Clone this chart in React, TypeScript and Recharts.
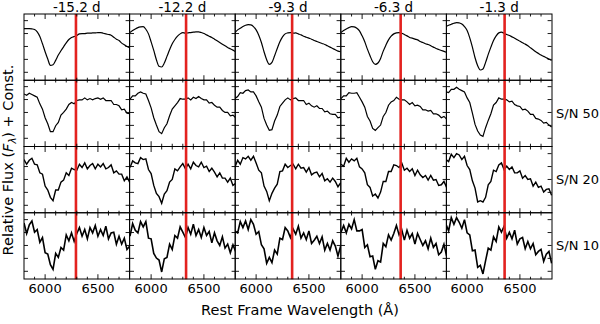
import { Line, LineChart, ReferenceLine, XAxis, YAxis } from 'recharts'

const WAVELENGTHS = [
  5800, 5825, 5850, 5875, 5900, 5925, 5950, 5975, 6000, 6025, 6050, 6075, 6100, 6125,
  6150, 6175, 6200, 6225, 6250, 6275, 6300, 6325, 6350, 6375, 6400, 6425, 6450, 6475,
  6500, 6525, 6550, 6575, 6600, 6625, 6650, 6675, 6700, 6725, 6750, 6775, 6800,
]

const PHASES = ['-15.2 d', '-12.2 d', '-9.3 d', '-6.3 d', '-1.3 d']
const NOISE_LABELS = ['', 'S/N 50', 'S/N 20', 'S/N 10']
const MARKERS = [6292, 6331, 6341, 6365, 6355]
const X_TICKS = [5900, 6000, 6100, 6200, 6300, 6400, 6500, 6600, 6700]
const X_LABELS = [6000, 6500]
const Y_TICKS = [0.12, 0.315, 0.51, 0.705, 0.9]

// noiseless spectra
const clean152 = [.78, .78, .78, .775, .765, .73, .66, .55, .43, .32, .225, .235, .30, .38, .445, .505, .565, .615, .645, .66, .675, .70, .705, .705, .71, .71, .715, .715, .72, .72, .71, .70, .69, .68, .65, .62, .60, .56, .535, .51, .49]
const clean122 = [.72, .75, .775, .795, .805, .81, .77, .70, .58, .45, .31, .21, .20, .26, .36, .46, .55, .615, .665, .70, .72, .71, .715, .72, .725, .73, .73, .72, .705, .685, .665, .645, .62, .595, .57, .545, .52, .495, .475, .455, .43]
const clean93 = [.72, .76, .785, .81, .83, .84, .835, .81, .76, .68, .57, .43, .31, .24, .27, .37, .48, .58, .655, .70, .715, .72, .71, .715, .70, .685, .665, .65, .635, .62, .60, .585, .57, .555, .54, .52, .50, .48, .46, .44, .43]
const clean63 = [.72, .75, .775, .795, .81, .805, .785, .745, .67, .58, .47, .37, .28, .24, .26, .33, .44, .53, .61, .665, .70, .715, .72, .71, .69, .67, .645, .635, .62, .61, .585, .57, .55, .54, .52, .50, .48, .465, .45, .435, .42]
const clean13 = [.81, .83, .845, .86, .87, .865, .85, .81, .75, .64, .50, .34, .22, .155, .17, .27, .39, .50, .60, .67, .715, .725, .71, .69, .675, .655, .635, .61, .59, .565, .545, .52, .49, .46, .43, .405, .38, .36, .34, .32, .30]

// S/N 50
const sn50_152 = [.79, .77, .80, .78, .76, .74, .64, .56, .43, .34, .22, .22, .31, .36, .47, .51, .56, .63, .66, .64, .69, .70, .70, .73, .70, .72, .70, .72, .73, .71, .73, .69, .69, .69, .63, .63, .61, .55, .56, .50, .49]
const sn50_122 = [.71, .76, .76, .80, .82, .80, .79, .69, .58, .43, .32, .22, .19, .28, .34, .46, .56, .61, .66, .72, .71, .71, .73, .70, .74, .72, .75, .72, .70, .70, .65, .66, .62, .59, .59, .54, .51, .51, .46, .47, .43]
const sn50_93 = [.72, .75, .81, .80, .84, .85, .82, .82, .76, .67, .59, .42, .32, .24, .25, .38, .47, .60, .65, .70, .73, .70, .72, .73, .69, .69, .69, .63, .65, .61, .59, .61, .57, .57, .52, .53, .49, .48, .48, .43, .44]
const sn50_63 = [.72, .76, .76, .81, .80, .80, .81, .74, .67, .59, .45, .38, .27, .24, .28, .32, .45, .51, .62, .67, .69, .74, .71, .70, .70, .67, .63, .66, .61, .62, .60, .55, .55, .53, .54, .49, .49, .47, .43, .45, .41]
const sn50_13 = [.82, .81, .86, .86, .89, .86, .84, .82, .73, .66, .50, .33, .23, .17, .15, .28, .39, .49, .62, .66, .73, .71, .71, .70, .67, .68, .63, .61, .60, .55, .56, .53, .48, .48, .42, .41, .39, .35, .36, .32, .29]

// S/N 20
const sn20_152 = [.81, .74, .80, .83, .74, .73, .61, .59, .41, .35, .24, .19, .35, .35, .47, .50, .61, .57, .68, .66, .65, .74, .69, .76, .67, .72, .75, .67, .74, .70, .75, .67, .69, .73, .61, .64, .59, .59, .49, .55, .47]
const sn20_122 = [.69, .79, .76, .75, .84, .81, .82, .66, .60, .42, .30, .25, .15, .29, .34, .47, .51, .67, .64, .70, .75, .67, .74, .67, .77, .72, .70, .77, .69, .71, .63, .68, .62, .55, .61, .53, .53, .47, .53, .42, .45]
const sn20_93 = [.70, .80, .74, .84, .82, .86, .80, .86, .76, .65, .61, .41, .33, .19, .30, .38, .44, .63, .64, .74, .69, .72, .74, .67, .74, .68, .69, .62, .69, .58, .61, .62, .55, .60, .49, .52, .47, .53, .48, .40, .46]
const sn20_63 = [.74, .71, .83, .77, .82, .79, .83, .70, .67, .61, .43, .39, .26, .29, .23, .32, .48, .48, .63, .63, .73, .72, .69, .76, .65, .68, .63, .67, .57, .65, .58, .54, .57, .50, .57, .50, .51, .42, .43, .48, .39]
const sn20_13 = [.81, .78, .89, .84, .90, .88, .81, .86, .72, .66, .49, .38, .17, .19, .17, .24, .43, .48, .65, .63, .73, .76, .66, .71, .66, .70, .61, .61, .64, .53, .57, .51, .52, .41, .47, .39, .41, .32, .36, .37, .27]

// S/N 10
const sn10_152 = [.85, .69, .82, .88, .71, .75, .56, .63, .40, .38, .22, .15, .39, .33, .48, .44, .67, .58, .70, .57, .69, .78, .65, .75, .61, .78, .70, .81, .65, .75, .66, .80, .61, .70, .71, .53, .65, .53, .62, .45, .50]
const sn10_122 = [.65, .84, .74, .70, .87, .79, .87, .62, .61, .39, .32, .29, .11, .31, .33, .53, .45, .66, .62, .79, .71, .63, .78, .68, .83, .66, .75, .63, .78, .66, .72, .55, .70, .58, .51, .64, .47, .53, .40, .52, .42]
const sn10_93 = [.73, .70, .87, .78, .88, .75, .90, .83, .68, .72, .52, .46, .24, .33, .25, .44, .38, .62, .60, .78, .73, .63, .76, .68, .80, .62, .70, .60, .73, .54, .59, .65, .54, .64, .44, .54, .44, .58, .50, .35, .50]
const sn10_63 = [.71, .81, .70, .83, .76, .90, .73, .73, .75, .48, .52, .34, .35, .15, .28, .26, .54, .49, .67, .59, .69, .81, .67, .75, .59, .74, .62, .69, .53, .69, .60, .51, .58, .46, .62, .48, .54, .37, .41, .53, .35]
const sn10_13 = [.83, .73, .93, .83, .93, .86, .77, .90, .70, .67, .43, .44, .18, .21, .08, .28, .47, .44, .64, .57, .79, .71, .80, .62, .71, .61, .74, .53, .61, .63, .46, .57, .46, .54, .37, .42, .45, .27, .38, .42, .24]

const SPECTRA = [
  [clean152, clean122, clean93, clean63, clean13],
  [sn50_152, sn50_122, sn50_93, sn50_63, sn50_13],
  [sn20_152, sn20_122, sn20_93, sn20_63, sn20_13],
  [sn10_152, sn10_122, sn10_93, sn10_63, sn10_13],
]

const LEFT = 24
const TOP = 14
const PW = 105.6
const PH = 66.25
const LABEL_SPACE = 24
const FONT = '"DejaVu Sans", sans-serif'
const LINE_WIDTHS = [1.2, 1.2, 1.4, 1.6]

// ticks point inwards on all four sides, drawn from the bottom / left axes
function XTick(props: any) {
  const { x, y, payload, label } = props
  const major = X_LABELS.includes(payload.value)
  const len = major ? 5 : 2.5
  return (
    <g>
      <line x1={x} x2={x} y1={y} y2={y - len} stroke="#000" strokeWidth={0.9} />
      <line x1={x} x2={x} y1={y - PH} y2={y - PH + len} stroke="#000" strokeWidth={0.9} />
      {label && major && (
        <text x={x} y={y + 14} textAnchor="middle" fontSize={13} fontFamily={FONT} fill="#000">
          {payload.value}
        </text>
      )}
    </g>
  )
}

function YTick(props: any) {
  const { x, y } = props
  return (
    <g>
      <line x1={x} x2={x + 4} y1={y} y2={y} stroke="#000" strokeWidth={0.9} />
      <line x1={x + PW} x2={x + PW - 4} y1={y} y2={y} stroke="#000" strokeWidth={0.9} />
    </g>
  )
}

function Panel({ flux, marker, bottom, row }: { flux: number[]; marker: number; bottom: boolean; row: number }) {
  const data = WAVELENGTHS.map((w, i) => ({ w, f: flux[i] }))
  return (
    <LineChart
      width={PW}
      height={PH + (bottom ? LABEL_SPACE : 0)}
      data={data}
      margin={{ top: 0, right: 0, bottom: bottom ? LABEL_SPACE : 0, left: 0 }}
    >
      <XAxis
        dataKey="w"
        type="number"
        domain={[5800, 6800]}
        ticks={X_TICKS}
        interval={0}
        mirror
        height={10}
        tickSize={0}
        tickMargin={0}
        axisLine={false}
        tick={(p: any) => <XTick {...p} label={bottom} />}
      />
      <YAxis
        type="number"
        domain={[0, 1]}
        ticks={Y_TICKS}
        interval={0}
        mirror
        width={10}
        tickSize={0}
        tickMargin={0}
        axisLine={false}
        tick={(p: any) => <YTick {...p} />}
      />
      <Line
        dataKey="f"
        type={row === 0 ? 'monotone' : 'linear'}
        stroke="#000"
        strokeWidth={LINE_WIDTHS[row]}
        strokeLinejoin="miter"
        dot={false}
        isAnimationActive={false}
      />
      <ReferenceLine x={marker} stroke="#e3221f" strokeWidth={2.6} />
    </LineChart>
  )
}

export default function App() {
  return (
    <div style={{ position: 'absolute', left: 0, top: 0, width: 600, height: 324, background: '#fff', fontFamily: FONT }}>
      {SPECTRA.map((row, r) =>
        row.map((flux, c) => (
          <div key={`${r}-${c}`} style={{ position: 'absolute', left: LEFT + c * PW, top: TOP + r * PH }}>
            <Panel flux={flux} marker={MARKERS[c]} bottom={r === SPECTRA.length - 1} row={r} />
          </div>
        ))
      )}
      <svg width={600} height={324} style={{ position: 'absolute', left: 0, top: 0, pointerEvents: 'none' }}>
        {SPECTRA.map((row, r) =>
          row.map((_, c) => (
            <rect
              key={`b${r}-${c}`}
              x={LEFT + c * PW}
              y={TOP + r * PH}
              width={PW}
              height={PH}
              fill="none"
              stroke="#000"
              strokeWidth={1}
            />
          ))
        )}
        {PHASES.map((p, c) => (
          <text key={p} x={LEFT + (c + 0.5) * PW} y={12} textAnchor="middle" fontSize={13.5} fontFamily={FONT} fill="#000">
            {p}
          </text>
        ))}
        {NOISE_LABELS.map((s, r) =>
          s ? (
            <text key={s} x={556} y={TOP + (r + 0.5) * PH + 4.5} fontSize={13} fontFamily={FONT} fill="#000">
              {s}
            </text>
          ) : null
        )}
        <text x={300} y={315} textAnchor="middle" fontSize={14.5} fontFamily={FONT} fill="#000">
          Rest Frame Wavelength (Å)
        </text>
        <text transform="translate(13,160) rotate(-90)" textAnchor="middle" fontSize={14.5} fontFamily={FONT} fill="#000">
          Relative Flux (<tspan fontStyle="italic">F</tspan>
          <tspan fontStyle="italic" fontSize={10} dy={3}>λ</tspan>
          <tspan dy={-3}>) + Const.</tspan>
        </text>
      </svg>
    </div>
  )
}
